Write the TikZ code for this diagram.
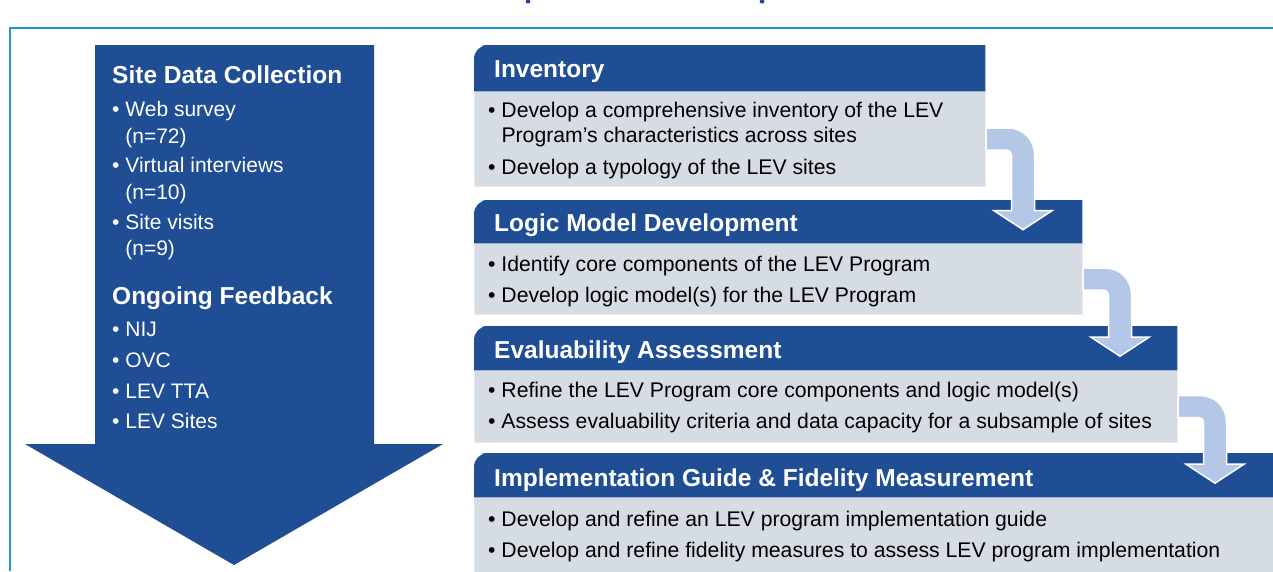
\documentclass[tikz,border=0pt]{standalone}
\usepackage{fontspec}
\setmainfont{Liberation Sans}
\usetikzlibrary{calc}
\definecolor{levblue}{RGB}{31,78,148}
\definecolor{levgray}{RGB}{214,220,228}
\definecolor{levline}{RGB}{232,234,238}
\definecolor{levturn}{RGB}{180,199,231}
\definecolor{levframe}{RGB}{27,154,215}

\newcommand\turnarrow[2]{%
  \filldraw[turnfill] let \p1=(#1.east), \p2=(#2.center) in
    (\x1,\y1+11pt) -- (\x1+22.5pt,\y1+11pt)
    .. controls (\x1+36.86pt,\y1+11pt) and (\x1+48.5pt,\y1-0.64pt) .. (\x1+48.5pt,\y1-15pt)
    -- (\x1+48.5pt,\y2+11pt) -- (\x1+66pt,\y2+11pt)
    -- (\x1+37pt,\y2-8pt) -- (\x1+8pt,\y2+11pt) -- (\x1+25.5pt,\y2+11pt)
    -- (\x1+25.5pt,\y1-16pt)
    .. controls (\x1+25.5pt,\y1-13.24pt) and (\x1+23.26pt,\y1-11pt) .. (\x1+20.5pt,\y1-11pt)
    -- (\x1,\y1-11pt) -- cycle;}

\begin{document}
\begin{tikzpicture}[x=1pt,y=-1pt,
  hbox/.style={rectangle,inner sep=0pt,anchor=north west},
  bbox/.style={rectangle,inner sep=0pt,anchor=north west,fill=levgray,draw=levline,line width=1pt},
  htext/.style={inner sep=0pt,anchor=base west,text=white,font=\bfseries\fontsize{24.5}{28}\selectfont},
  btext/.style={inner sep=0pt,anchor=base west,font=\fontsize{21.2}{25}\selectfont},
  ltext/.style={inner sep=0pt,anchor=base west,text=white,font=\fontsize{21}{27}\selectfont},
  turnfill/.style={fill=levturn,draw=white,line width=1.5pt}]

  \useasboundingbox (0,0) rectangle (1273,571);
  \draw[levframe,line width=1.5pt] (10,571) -- (10,28) -- (1273,28);
  \fill[levblue] (528,1.5) ellipse [x radius=2.5, y radius=2];
  \fill[levblue] (762,1.5) ellipse [x radius=2.5, y radius=2];

  % left column
  \fill[levblue] (95,45) -- (374,45) -- (374,444) -- (443,444) -- (234,565) -- (25,444) -- (95,444) -- cycle;
  \node[htext] (sdc) at (112,83) {Site Data Collection};
  \node[ltext] (web) at (112,116) {\textbullet\ Web survey};
  \node[ltext] (webn) at (112,143) {\hphantom{\textbullet\ }(n=72)};
  \node[ltext] (vint) at (112,172) {\textbullet\ Virtual interviews};
  \node[ltext] (vintn) at (112,199) {\hphantom{\textbullet\ }(n=10)};
  \node[ltext] (svis) at (112,229) {\textbullet\ Site visits};
  \node[ltext] (svisn) at (112,255) {\hphantom{\textbullet\ }(n=9)};
  \node[htext] (ofb) at (112,304) {Ongoing Feedback};
  \node[ltext] (nij) at (112,336) {\textbullet\ NIJ};
  \node[ltext] (ovc) at (112,367) {\textbullet\ OVC};
  \node[ltext] (tta) at (112,398) {\textbullet\ LEV TTA};
  \node[ltext] (lsites) at (112,428) {\textbullet\ LEV Sites};

  % steps
  \node[bbox,minimum width=511pt,minimum height=95pt] (body1) at (474,91) {};
  \node[bbox,minimum width=608pt,minimum height=71pt] (body2) at (474,243) {};
  \node[bbox,minimum width=703pt,minimum height=72pt] (body3) at (474,370) {};
  \node[bbox,minimum width=810pt,minimum height=80pt] (body4) at (474,497) {};
  \node[hbox,minimum width=511pt,minimum height=46pt] (head1) at (474,45) {};
  \node[hbox,minimum width=608pt,minimum height=43pt] (head2) at (474,200) {};
  \node[hbox,minimum width=703pt,minimum height=44pt] (head3) at (474,326) {};
  \node[hbox,minimum width=810pt,minimum height=44pt] (head4) at (474,453) {};
  \foreach \h in {head1,head2,head3,head4}
    \fill[levblue] ([yshift=-20pt]\h.north west) [rounded corners=14pt] -- (\h.north west)
      -- ([xshift=20pt]\h.north west) [sharp corners] -- (\h.north east) -- (\h.south east)
      -- (\h.south west) -- cycle;

  \turnarrow{body1}{head2}
  \turnarrow{body2}{head3}
  \turnarrow{body3}{head4}

  \node[htext] (inv) at ([xshift=20pt,yshift=-9pt]head1.west) {Inventory};
  \node[htext] (lmd) at ([xshift=20pt,yshift=-9.5pt]head2.west) {Logic Model Development};
  \node[htext] (eva) at ([xshift=20pt,yshift=-10pt]head3.west) {Evaluability Assessment};
  \node[htext] (igf) at ([xshift=20pt,yshift=-11pt]head4.west) {Implementation Guide \& Fidelity Measurement};

  \node[btext] (inva) at ([xshift=14pt,yshift=-26pt]body1.north west) {\textbullet\ Develop a comprehensive inventory of the LEV};
  \node[btext] (invc) at ([xshift=14pt,yshift=-51pt]body1.north west) {\hphantom{\textbullet\ }Program’s characteristics across sites};
  \node[btext] (invb) at ([xshift=14pt,yshift=-83pt]body1.north west) {\textbullet\ Develop a typology of the LEV sites};
  \node[btext] (lmda) at ([xshift=14pt,yshift=-28pt]body2.north west) {\textbullet\ Identify core components of the LEV Program};
  \node[btext] (lmdb) at ([xshift=14pt,yshift=-59pt]body2.north west) {\textbullet\ Develop logic model(s) for the LEV Program};
  \node[btext] (evaa) at ([xshift=14pt,yshift=-27pt]body3.north west) {\textbullet\ Refine the LEV Program core components and logic model(s)};
  \node[btext] (evab) at ([xshift=14pt,yshift=-58pt]body3.north west) {\textbullet\ Assess evaluability criteria and data capacity for a subsample of sites};
  \node[btext] (igfa) at ([xshift=14pt,yshift=-29pt]body4.north west) {\textbullet\ Develop and refine an LEV program implementation guide};
  \node[btext] (igfb) at ([xshift=14pt,yshift=-60pt]body4.north west) {\textbullet\ Develop and refine fidelity measures to assess LEV program implementation};
\end{tikzpicture}
\end{document}
